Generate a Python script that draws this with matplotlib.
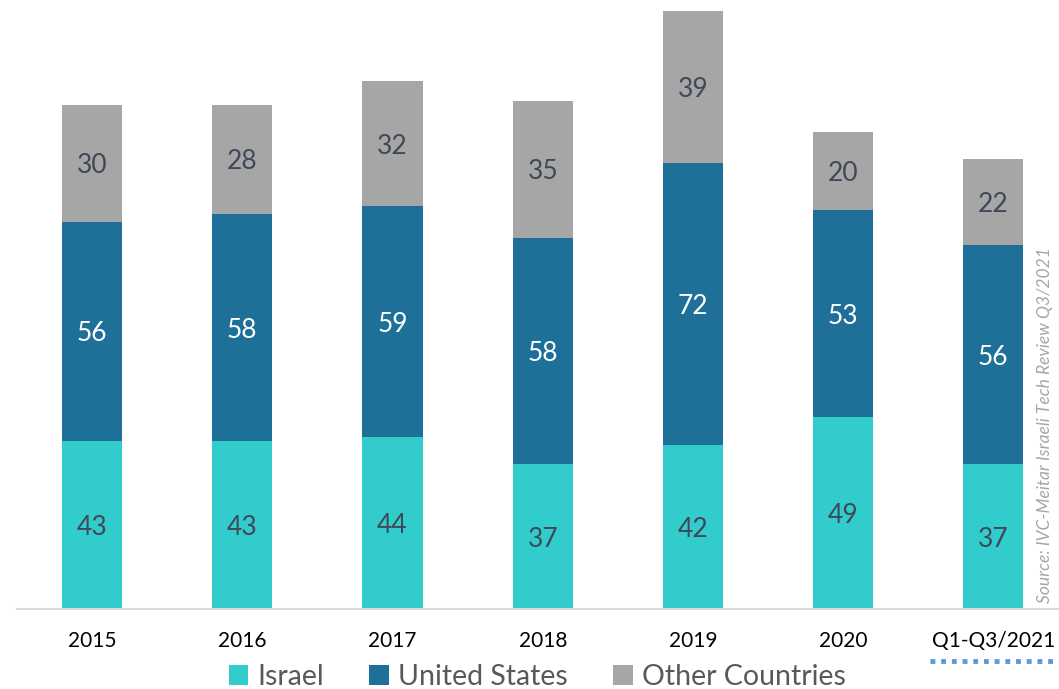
import matplotlib.pyplot as plt
import numpy as np

# Data
years = ['2015', '2016', '2017', '2018', '2019', '2020', 'Q1-Q3/2021']
israel = [43, 43, 44, 37, 42, 49, 37]
united_states = [56, 58, 59, 58, 72, 53, 56]
other = [30, 28, 32, 35, 39, 20, 22]

series = [('Israel', israel, '#33CCCC', '#404858'),
          ('United States', united_states, '#1F7099', 'white'),
          ('Other Countries', other, '#A6A6A6', '#404858')]

plt.rcParams['font.family'] = ['Lato', 'DejaVu Sans']

W, H = 1059, 689
fig = plt.figure(figsize=(W / 100, H / 100), dpi=100)
ax = fig.add_axes([17 / W, 80 / H, 1042 / W, 606 / H])

x = np.arange(len(years))
bottom = np.zeros(len(years))
for name, vals, color, tcolor in series:
    vals = np.array(vals)
    ax.bar(x, vals, 0.4, bottom=bottom, color=color, label=name)
    for xi, b, v in zip(x, bottom, vals):
        ax.text(xi, b + v / 2, str(v), ha='center', va='center_baseline',
                fontsize=19, color=tcolor)
    bottom += vals

ax.set_xlim(-0.5, -0.5 + 1042 / 150.2)
ax.set_ylim(0, 155)
ax.set_xticks(x)
ax.set_xticklabels(years, fontsize=15, color='black')
ax.tick_params(axis='x', length=0, pad=16)
ax.set_yticks([])
for s in ['top', 'right', 'left']:
    ax.spines[s].set_visible(False)
ax.spines['bottom'].set_color('#D9D9D9')
ax.spines['bottom'].set_linewidth(1.5)

# source note
fig.text(1045 / W, 1 - 425 / H, 'Source: IVC-Meitar Israeli Tech Review Q3/2021',
         rotation=90, ha='center', va='center', fontsize=12.5,
         style='italic', color='#A6A6A6')

# dotted underline under last label
fig.add_artist(plt.Line2D([930 / W, 1053 / W], [1 - 661 / H, 1 - 661 / H],
                          transform=fig.transFigure,
                          color='#5B9BD5', lw=3.5, linestyle=(0, (1, 1.2))))

leg = fig.legend(loc='center', ncol=3, bbox_to_anchor=(537 / W, 1 - 677 / H),
                 frameon=False, fontsize=20.5, handlelength=0.7, handleheight=0.7,
                 handletextpad=0.3, columnspacing=1.6, labelcolor='#595959',
                 borderpad=0)

fig.savefig('out.png', dpi=100)
